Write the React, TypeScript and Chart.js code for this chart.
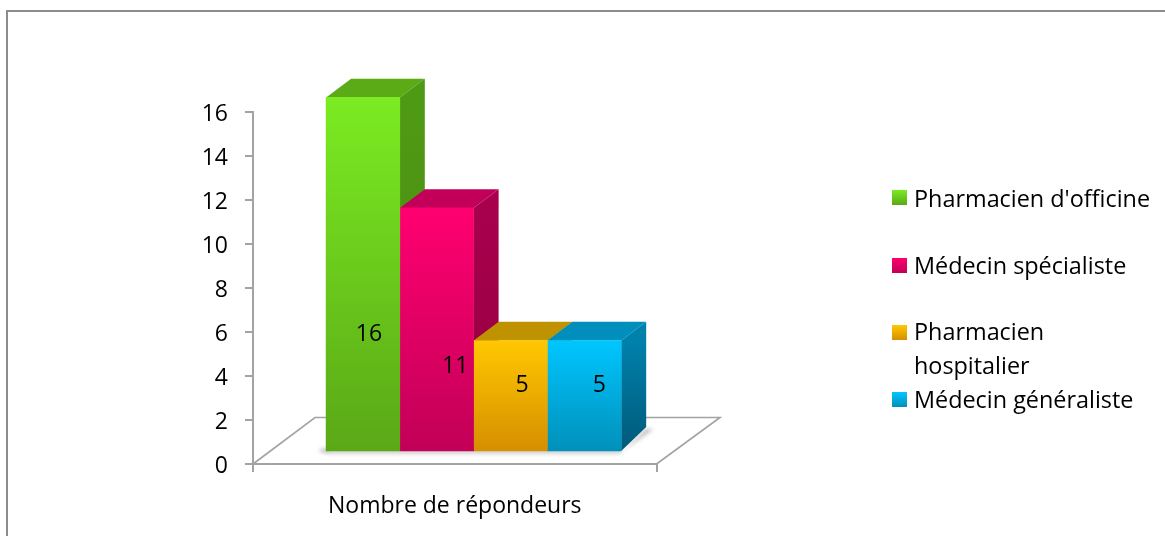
import React, { useEffect, useRef } from "react";
import { Chart, registerables } from "chart.js";

Chart.register(...registerables);

const categories = ["Nombre de répondeurs"];
const seriesNames = ["Pharmacien d'officine", "Médecin spécialiste", "Pharmacien hospitalier", "Médecin généraliste"];
const pharmacienOfficine = [16];
const medecinSpecialiste = [11];
const pharmacienHospitalier = [5];
const medecinGeneraliste = [5];
const seriesValues = [pharmacienOfficine, medecinSpecialiste, pharmacienHospitalier, medecinGeneraliste];
const seriesSlots = [1, 2, 3, 4];
const yTicks = [0, 2, 4, 6, 8, 10, 12, 14, 16];

const FONT = "'Open Sans', sans-serif";
const FS = 23;
const LEGEND_FS = 23.4;
const AXIS = "#a3a3a3";

const frontTop = ["#7BEB22", "#FF0070", "#FFC800", "#00C6FF"];
const frontBottom = ["#5AA816", "#C20058", "#D68F00", "#0090BA"];
const topFace = ["#5BAB17", "#C30059", "#BF9300", "#008FBC"];
const sideTop = ["#4F9A14", "#A8004D", "#A87F00", "#0081AC"];
const sideBottom = ["#4A8A12", "#94003F", "#8F6C00", "#00597A"];

const DEPTH_X = 25;
const DEPTH_Y = 18.7;
const DEPTH_Y_BASE = 24;
const labelShift = [
  [6, 60.5],
  [18.5, 37],
  [11.5, -10],
  [15, -10],
];
const legendRows = [
  { box: 190, lines: [[seriesNames[0], 206]] },
  { box: 258, lines: [[seriesNames[1], 273]] },
  { box: 325, lines: [["Pharmacien", 339], ["hospitalier", 373]] },
  { box: 392, lines: [[seriesNames[3], 407]] },
];

const scene = {
  id: "scene",
  beforeDraw(chart: any) {
    const { ctx } = chart;
    ctx.save();
    ctx.fillStyle = "#ffffff";
    ctx.fillRect(0, 0, chart.width, chart.height);
    ctx.strokeStyle = "#8c8c8c";
    ctx.lineWidth = 2;
    ctx.beginPath();
    ctx.moveTo(7, chart.height);
    ctx.lineTo(7, 11);
    ctx.lineTo(chart.width, 11);
    ctx.stroke();
    ctx.restore();
  },
  beforeDatasetsDraw(chart: any) {
    const { ctx, chartArea: a } = chart;
    ctx.save();
    // floor
    ctx.strokeStyle = AXIS;
    ctx.lineWidth = 1.6;
    ctx.beginPath();
    ctx.moveTo(a.left, a.bottom);
    ctx.lineTo(a.left + 62, a.bottom - 46.5);
    ctx.lineTo(a.right + 63.5, a.bottom - 46.5);
    ctx.lineTo(a.right, a.bottom);
    ctx.stroke();
    // soft shadow of the block on the floor
    const first = chart.getDatasetMeta(0).data[0];
    const last = chart.getDatasetMeta(3).data[0];
    const lastR = last.x + last.width / 2;
    const firstL = first.x - first.width / 2;
    ctx.fillStyle = "rgba(120,120,120,0.55)";
    ctx.filter = "blur(2px)";
    ctx.beginPath();
    ctx.moveTo(lastR, first.base + 1);
    ctx.lineTo(lastR + DEPTH_X + 7, first.base - DEPTH_Y_BASE + 2);
    ctx.lineTo(lastR + DEPTH_X, first.base - DEPTH_Y_BASE + 2);
    ctx.closePath();
    ctx.fill();
    ctx.fillRect(firstL - 6, first.base - 2, 8, 3);
    ctx.fillRect(firstL, first.base - 1, lastR - firstL, 3);
    ctx.filter = "none";
    // top and side faces
    seriesValues.forEach((_, i) => {
      const bar = chart.getDatasetMeta(i).data[0];
      const l = bar.x - bar.width / 2;
      const r = bar.x + bar.width / 2;
      ctx.fillStyle = topFace[i];
      ctx.beginPath();
      ctx.moveTo(l, bar.y);
      ctx.lineTo(l + DEPTH_X, bar.y - DEPTH_Y);
      ctx.lineTo(r + DEPTH_X, bar.y - DEPTH_Y);
      ctx.lineTo(r, bar.y);
      ctx.closePath();
      ctx.fill();
      const g = ctx.createLinearGradient(0, bar.y, 0, bar.base);
      g.addColorStop(0, sideTop[i]);
      g.addColorStop(1, sideBottom[i]);
      ctx.fillStyle = g;
      ctx.beginPath();
      ctx.moveTo(r, bar.y);
      ctx.lineTo(r + DEPTH_X, bar.y - DEPTH_Y);
      ctx.lineTo(r + DEPTH_X, bar.base - DEPTH_Y_BASE);
      ctx.lineTo(r, bar.base);
      ctx.closePath();
      ctx.fill();
    });
    ctx.restore();
  },
  afterDatasetsDraw(chart: any) {
    const { ctx } = chart;
    ctx.save();
    ctx.fillStyle = "#000000";
    ctx.font = `${FS}px ${FONT}`;
    ctx.textAlign = "center";
    ctx.textBaseline = "middle";
    seriesValues.forEach((v, i) => {
      const bar = chart.getDatasetMeta(i).data[0];
      ctx.fillText(String(v[0]), bar.x + labelShift[i][0], (bar.y + bar.base) / 2 + labelShift[i][1]);
    });
    ctx.restore();
  },
  afterDraw(chart: any) {
    const { ctx } = chart;
    ctx.save();
    ctx.font = `${LEGEND_FS}px ${FONT}`;
    ctx.textAlign = "left";
    ctx.textBaseline = "alphabetic";
    legendRows.forEach((row, i) => {
      const g = ctx.createLinearGradient(0, row.box, 0, row.box + 15);
      g.addColorStop(0, frontTop[i]);
      g.addColorStop(1, frontBottom[i]);
      ctx.fillStyle = g;
      ctx.fillRect(892, row.box, 15, 15);
      ctx.fillStyle = "#000000";
      row.lines.forEach(([text, y]) => ctx.fillText(text as string, 914, (y as number) + 0.5));
    });
    ctx.restore();
  },
};

export default function App() {
  const ref = useRef<HTMLCanvasElement>(null);
  useEffect(() => {
    const chart = new Chart(ref.current!, {
      type: "bar",
      data: {
        labels: categories,
        datasets: seriesNames.map((name, i) => ({
          label: name,
          data: seriesValues[i].map((y) => ({ x: seriesSlots[i], y })),
          xAxisID: "x1",
          yAxisID: "y1",
          grouped: false,
          barThickness: 73.7,
          clip: false as any,
          borderWidth: 0,
          backgroundColor: (c: any) => {
            const s = c.chart.scales.y1;
            if (!s || !c.raw) return frontTop[i];
            const y0 = s.getPixelForValue(c.raw.y);
            const y1 = s.getPixelForValue(0);
            if (!Number.isFinite(y0) || !Number.isFinite(y1)) return frontTop[i];
            const g = c.chart.ctx.createLinearGradient(0, y0, 0, y1);
            g.addColorStop(0, frontTop[i]);
            g.addColorStop(1, frontBottom[i]);
            return g;
          },
        })),
      },
      options: {
        animation: false,
        responsive: false,
        layout: { padding: { left: 0, right: 508.5, top: 112, bottom: 0 } },
        plugins: { legend: { display: false }, tooltip: { enabled: false } },
        scales: {
          x: {
            type: "category",
            labels: categories,
            offset: true,
            afterFit: (s: any) => { s.height = 72; },
            border: { color: AXIS, width: 2 },
            grid: { drawOnChartArea: false, drawTicks: true, tickLength: 8, color: AXIS, lineWidth: 2 },
            ticks: { color: "#000000", font: { family: FONT, size: FS }, padding: 21, maxRotation: 0 },
          },
          x1: { type: "linear", display: false, offset: false, min: -0.49, max: 4.978 },
          y: {
            type: "linear",
            min: 0,
            max: 16,
            afterFit: (s: any) => { s.width = 253; },
            afterBuildTicks: (s: any) => { s.ticks = yTicks.map((value) => ({ value })); },
            border: { color: AXIS, width: 2 },
            grid: { drawOnChartArea: false, drawTicks: true, tickLength: 8, color: AXIS, lineWidth: 2 },
            ticks: { color: "#000000", font: { family: FONT, size: FS }, padding: 17, labelOffset: 2 },
          },
          y1: { type: "linear", display: false, min: -0.588, max: 15.34 },
        },
      },
      plugins: [scene],
    } as any);
    return () => chart.destroy();
  }, []);
  return (
    <div style={{ position: "absolute", left: 0, top: 0, width: 1165, height: 536 }}>
      <canvas ref={ref} width={1165} height={536} style={{ display: "block", width: 1165, height: 536 }} />
    </div>
  );
}
